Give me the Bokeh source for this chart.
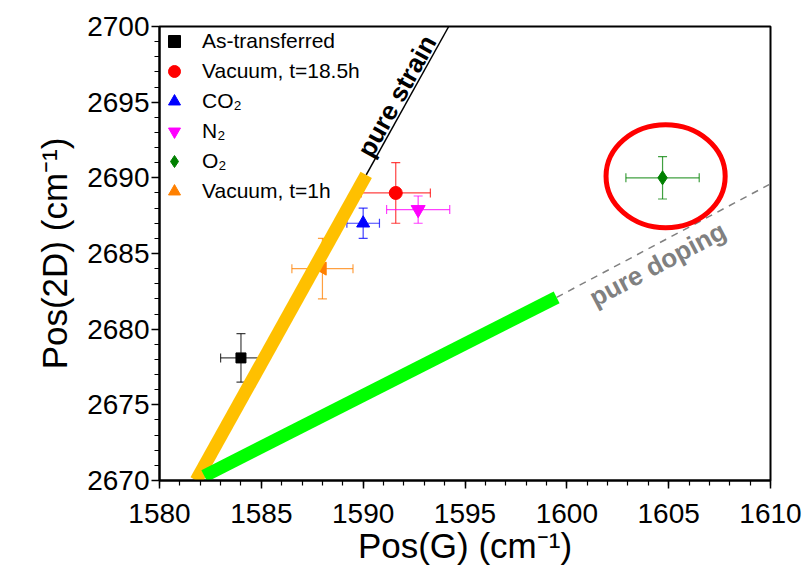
from bokeh.plotting import figure
from bokeh.models import (Range1d, SingleIntervalTicker, Label, Legend, LegendItem,
                          ColumnDataSource)
from bokeh.embed import file_html
from bokeh.resources import INLINE
import math

# ---------------- data ----------------
series_names = ["As-transferred", "Vacuum, t=18.5h", "CO\u2082", "N\u2082", "O\u2082", "Vacuum, t=1h"]
pos_g = [1584.0, 1591.6, 1590.0, 1592.7, 1604.7, 1588.0]
pos_2d = [2678.1, 2689.0, 2687.0, 2687.9, 2690.0, 2684.0]
err_g = [1.0, 1.7, 0.8, 1.55, 1.8, 1.5]
err_2d = [1.6, 2.0, 1.0, 0.9, 1.4, 2.0]
markers = ["square", "circle", "triangle", "inverted_triangle", "diamond", "triangle"]
marker_angles = [0, 0, 0, 0, 0, 90]
marker_sizes = [10, 13, 13, 14, 14, 13]
colors = ["#000000", "#FF0000", "#0000FF", "#FF00FF", "#008000", "#FF8000"]

# strain / doping reference lines
strain_x = [1581.8, 1590.15]
strain_y = [2670.0, 2690.2]
strain_ext_x = [1590.15, 1594.2]
strain_ext_y = [2690.2, 2700.0]
doping_x = [1582.2, 1599.5]
doping_y = [2670.3, 2682.1]
doping_ext_x = [1599.5, 1610.0]
doping_ext_y = [2682.1, 2689.6]

# highlight ellipse around O2 point
circle_x, circle_y, circle_w, circle_h = 1604.85, 2690.1, 5.85, 6.8

FONT = "Liberation Sans"

p = figure(width=810, height=574, output_backend="svg", toolbar_location=None,
           x_range=Range1d(1580, 1610), y_range=Range1d(2670, 2700),
           min_border_left=159, min_border_right=40, min_border_top=26,
           min_border_bottom=94)
p.xgrid.visible = False
p.ygrid.visible = False
p.outline_line_color = "black"
p.outline_line_width = 2
p.background_fill_color = "white"
p.border_fill_color = "white"

for ax, ticker in ((p.xaxis[0], SingleIntervalTicker(interval=5, num_minor_ticks=5)),
                   (p.yaxis[0], SingleIntervalTicker(interval=5, num_minor_ticks=5))):
    ax.ticker = ticker
    ax.axis_line_width = 2
    ax.axis_line_color = "black"
    ax.major_tick_in = 0
    ax.major_tick_out = 8
    ax.minor_tick_in = 0
    ax.minor_tick_out = 5
    ax.major_tick_line_width = 1.5
    ax.minor_tick_line_width = 1.2
    ax.major_label_text_font = FONT
    ax.major_label_text_font_size = "28px"
    ax.major_label_text_color = "black"
    ax.axis_label_text_font = FONT
    ax.axis_label_text_font_size = "35px"
    ax.axis_label_text_font_style = "normal"
    ax.axis_label_text_color = "black"

p.xaxis.axis_label = "Pos(G) (cm\u207b\u00b9)"
p.yaxis.axis_label = "Pos(2D) (cm\u207b\u00b9)"
p.xaxis.major_label_standoff = 15
p.yaxis.major_label_standoff = 2
p.xaxis.axis_label_standoff = 0
p.yaxis.axis_label_standoff = 10

# ---------------- error bars + markers ----------------
legend_items = []
for i in range(len(series_names)):
    x, y, ex, ey, c = pos_g[i], pos_2d[i], err_g[i], err_2d[i], colors[i]
    src = ColumnDataSource(dict(x=[x], y=[y], x0=[x - ex], x1=[x + ex],
                                y0=[y - ey], y1=[y + ey]))
    p.segment(x0="x0", y0="y", x1="x1", y1="y", source=src, line_color=c,
              line_width=1.2, line_alpha=0.75)
    p.segment(x0="x", y0="y0", x1="x", y1="y1", source=src, line_color=c,
              line_width=1.2, line_alpha=0.75)
    capsrc = ColumnDataSource(dict(x=[x - ex, x + ex], y=[y, y]))
    p.scatter(x="x", y="y", source=capsrc, marker="dash", size=9, angle=math.pi / 2,
              line_color=c, line_width=1.2, line_alpha=0.75)
    capsrc2 = ColumnDataSource(dict(x=[x, x], y=[y - ey, y + ey]))
    p.scatter(x="x", y="y", source=capsrc2, marker="dash", size=9,
              line_color=c, line_width=1.2, line_alpha=0.75)
    r = p.scatter(x="x", y="y", source=src, marker=markers[i], size=marker_sizes[i],
                  angle=math.radians(marker_angles[i]), fill_color=c, line_color=c)
    legend_items.append(LegendItem(label=series_names[i], renderers=[r]))

# ---------------- reference lines ----------------
p.line(strain_ext_x, strain_ext_y, line_color="black", line_width=1.5)
p.line(doping_ext_x, doping_ext_y, line_color="#808080", line_width=1.5, line_dash="7 6")
p.line(strain_x, strain_y, line_color="#FFC000", line_width=13, line_cap="butt")
p.line(doping_x, doping_y, line_color="#00FF00", line_width=13, line_cap="butt")

p.ellipse(x=[circle_x], y=[circle_y], width=[circle_w], height=[circle_h],
          fill_alpha=0, line_color="#FF0000", line_width=5)

p.add_layout(Label(x=1591.65, y=2695.4, text="pure strain", angle=61, angle_units="deg",
                   text_align="center", text_baseline="middle", text_font=FONT,
                   text_font_style="bold", text_font_size="26px", text_color="black"))
p.add_layout(Label(x=1604.45, y=2684.3, text="pure doping", angle=28, angle_units="deg",
                   text_align="center", text_baseline="middle", text_font=FONT,
                   text_font_style="bold", text_font_size="26px", text_color="#808080"))

legend = Legend(items=legend_items, location="top_left", margin=0, padding=0, spacing=0,
                glyph_width=30, glyph_height=30, label_height=30, label_standoff=13,
                label_text_font=FONT, label_text_font_size="21px",
                label_text_color="black",
                background_fill_alpha=0, border_line_alpha=0)
p.add_layout(legend)

open("out.html", "w").write(file_html(p, INLINE))
